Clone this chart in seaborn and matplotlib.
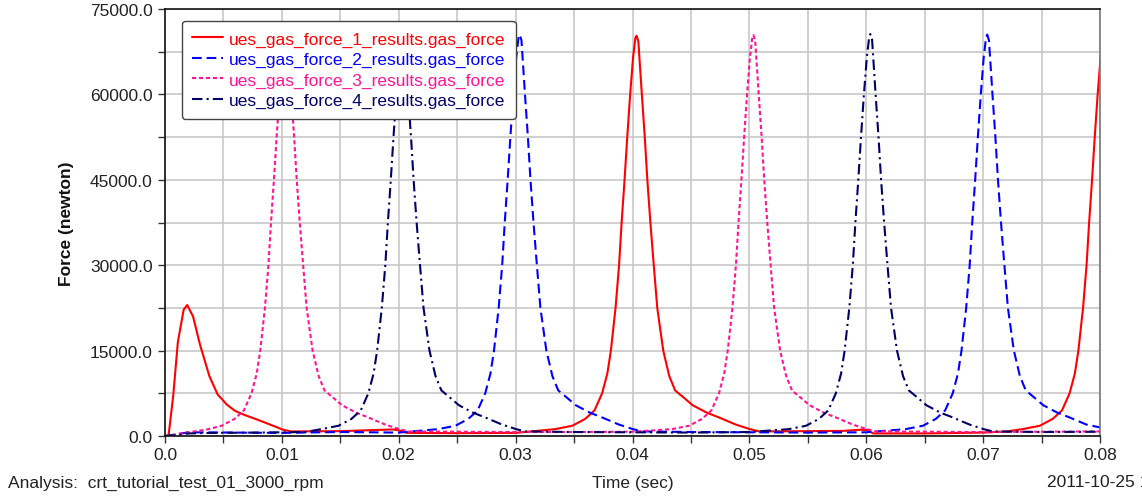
import matplotlib
matplotlib.use("Agg")
import matplotlib.pyplot as plt
import seaborn as sns
import pandas as pd
from matplotlib.ticker import MultipleLocator, FixedLocator, FixedFormatter

# ---------------- data ----------------
series_names = [
    "ues_gas_force_1_results.gas_force",
    "ues_gas_force_2_results.gas_force",
    "ues_gas_force_3_results.gas_force",
    "ues_gas_force_4_results.gas_force",
]

# cylinder 1 (red)
t_gas1 = [0.0, 0.0003, 0.0007, 0.0011, 0.0016, 0.0019, 0.0024, 0.0030, 0.0038, 0.0045,
          0.0053, 0.0060, 0.0068, 0.0080, 0.0090, 0.0101, 0.0108, 0.0150, 0.0187, 0.0195,
          0.0201, 0.0207, 0.0250, 0.0300,
          0.03335, 0.03485, 0.03595, 0.03675, 0.0374, 0.03785, 0.03815, 0.03855, 0.03885,
          0.03907, 0.03932, 0.03955, 0.0398, 0.04005, 0.04025, 0.04035,
          0.0405, 0.0408, 0.04105, 0.04127, 0.04153, 0.04182, 0.04212, 0.04263, 0.04315,
          0.04365, 0.04435, 0.04515, 0.04635, 0.04735, 0.04885, 0.05005, 0.05085,
          0.0550, 0.0580, 0.0595, 0.0601, 0.0606, 0.0650, 0.0700, 0.0720,
          0.07335, 0.07485, 0.07595, 0.07675, 0.0774, 0.07785, 0.07815, 0.07855, 0.07885,
          0.07907, 0.07932, 0.07955, 0.0798, 0.08005]
f_gas1 = [0, 0, 7000, 16500, 22200, 23000, 21000, 16000, 10500, 7300,
          5500, 4400, 3700, 2800, 2000, 1100, 800, 850, 1100, 1150,
          950, 550, 500, 550,
          1200, 1800, 3000, 4500, 7500, 11000, 15000, 22500, 30000,
          37500, 45000, 52500, 60000, 66500, 70000, 70300,
          69300, 60000, 52500, 45000, 37500, 30000, 22500, 15000, 10500,
          8000, 6800, 5400, 4100, 3300, 2000, 1200, 800,
          850, 900, 1100, 1050, 450, 450, 600, 800,
          1200, 1800, 3000, 4500, 7500, 11000, 15000, 22500, 30000,
          37500, 45000, 52500, 60000, 66500]

# cylinder 2 (blue, dashed)
t_gas2 = [0.0, 0.0010, 0.0020, 0.0060, 0.0100, 0.0150, 0.0200,
          0.02335, 0.02485, 0.02595, 0.02675, 0.0274, 0.02785, 0.02815, 0.02855, 0.02885,
          0.02907, 0.02932, 0.02955, 0.0298, 0.03005, 0.03025, 0.03035,
          0.0305, 0.0308, 0.03105, 0.03127, 0.03153, 0.03182, 0.03212, 0.03263, 0.03315,
          0.03365, 0.03435, 0.03515, 0.03635, 0.03735, 0.03885, 0.04005, 0.04085,
          0.0450, 0.0500, 0.0550, 0.0600,
          0.06335, 0.06485, 0.06595, 0.06675, 0.0674, 0.06785, 0.06815, 0.06855, 0.06885,
          0.06907, 0.06932, 0.06955, 0.0698, 0.07005, 0.07025, 0.07035,
          0.0705, 0.0708, 0.07105, 0.07127, 0.07153, 0.07182, 0.07212, 0.07263, 0.07315,
          0.07365, 0.07435, 0.07515, 0.07635, 0.07735, 0.07885, 0.0800]
f_gas2 = [0, 300, 650, 600, 550, 700, 600,
          1200, 1800, 3000, 4500, 7500, 11000, 15000, 22500, 30000,
          37500, 45000, 52500, 60000, 66500, 70000, 70500,
          69500, 60000, 52500, 45000, 37500, 30000, 22500, 15000, 10500,
          8000, 6800, 5400, 4100, 3300, 2000, 1200, 800,
          700, 650, 600, 650,
          1200, 1800, 3000, 4500, 7500, 11000, 15000, 22500, 30000,
          37500, 45000, 52500, 60000, 66500, 70000, 70500,
          69500, 60000, 52500, 45000, 37500, 30000, 22500, 15000, 10500,
          8000, 6800, 5400, 4100, 3300, 2000, 1500]

# cylinder 3 (pink, short dashes)
t_gas3 = [0.0, 0.0010, 0.0016, 0.0025, 0.0035,
          0.00485, 0.00595, 0.00675, 0.0074, 0.00785, 0.00815, 0.00855, 0.00885,
          0.00907, 0.00932, 0.00955, 0.0098, 0.01005, 0.01025, 0.01035,
          0.0105, 0.0108, 0.01105, 0.01127, 0.01153, 0.01182, 0.01212, 0.01263, 0.01315,
          0.01365, 0.01435, 0.01515, 0.01635, 0.01735, 0.01885, 0.02005, 0.02085,
          0.0250, 0.0300, 0.0350, 0.0400,
          0.04335, 0.04485, 0.04595, 0.04675, 0.0474, 0.04785, 0.04815, 0.04855, 0.04885,
          0.04907, 0.04932, 0.04955, 0.0498, 0.05005, 0.05025, 0.05035,
          0.0505, 0.0508, 0.05105, 0.05127, 0.05153, 0.05182, 0.05212, 0.05263, 0.05315,
          0.05365, 0.05435, 0.05515, 0.05635, 0.05735, 0.05885, 0.06005, 0.06085,
          0.0650, 0.0700, 0.0750, 0.0800]
f_gas3 = [0, 300, 550, 800, 1100,
          1800, 3000, 4500, 7500, 11000, 15000, 22500, 30000,
          37500, 45000, 52500, 60000, 66500, 70000, 70400,
          69400, 60000, 52500, 45000, 37500, 30000, 22500, 15000, 10500,
          8000, 6800, 5400, 4100, 3300, 2000, 1200, 800,
          750, 700, 700, 750,
          1200, 1800, 3000, 4500, 7500, 11000, 15000, 22500, 30000,
          37500, 45000, 52500, 60000, 66500, 70000, 70400,
          69400, 60000, 52500, 45000, 37500, 30000, 22500, 15000, 10500,
          8000, 6800, 5400, 4100, 3300, 2000, 1200, 800,
          750, 700, 750, 800]

# cylinder 4 (navy, dash-dot)
t_gas4 = [0.0, 0.0010, 0.0020, 0.0040, 0.0080, 0.0120,
          0.01335, 0.01485, 0.01595, 0.01675, 0.0174, 0.01785, 0.01815, 0.01855, 0.01885,
          0.01907, 0.01932, 0.01955, 0.0198, 0.02005, 0.02025, 0.02035,
          0.0205, 0.0208, 0.02105, 0.02127, 0.02153, 0.02182, 0.02212, 0.02263, 0.02315,
          0.02365, 0.02435, 0.02515, 0.02635, 0.02735, 0.02885, 0.03005, 0.03085,
          0.0350, 0.0400, 0.0450, 0.0500,
          0.05335, 0.05485, 0.05595, 0.05675, 0.0574, 0.05785, 0.05815, 0.05855, 0.05885,
          0.05907, 0.05932, 0.05955, 0.0598, 0.06005, 0.06025, 0.06035,
          0.0605, 0.0608, 0.06105, 0.06127, 0.06153, 0.06182, 0.06212, 0.06263, 0.06315,
          0.06365, 0.06435, 0.06515, 0.06635, 0.06735, 0.06885, 0.07005, 0.07085,
          0.0750, 0.0800]
f_gas4 = [0, 150, 450, 550, 600, 700,
          1200, 1800, 3000, 4500, 7500, 11000, 15000, 22500, 30000,
          37500, 45000, 52500, 60000, 66500, 70000, 70600,
          69600, 60000, 52500, 45000, 37500, 30000, 22500, 15000, 10500,
          8000, 6800, 5400, 4100, 3300, 2000, 1200, 800,
          700, 650, 600, 700,
          1200, 1800, 3000, 4500, 7500, 11000, 15000, 22500, 30000,
          37500, 45000, 52500, 60000, 66500, 70000, 70600,
          69600, 60000, 52500, 45000, 37500, 30000, 22500, 15000, 10500,
          8000, 6800, 5400, 4100, 3300, 2000, 1200, 800,
          700, 750]

x_tick_values = [0.0, 0.01, 0.02, 0.03, 0.04, 0.05, 0.06, 0.07, 0.08]
x_tick_labels = ["0.0", "0.01", "0.02", "0.03", "0.04", "0.05", "0.06", "0.07", "0.08"]
y_tick_values = [0, 15000, 30000, 45000, 60000, 75000]
y_tick_labels = ["0.0", "15000.0", "30000.0", "45000.0", "60000.0", "75000.0"]

# ---------------- styling ----------------
sns.set_style("white")
plt.rcParams["font.family"] = ["Liberation Sans", "DejaVu Sans"]
plt.rcParams["lines.scale_dashes"] = False

colors = ["#ff0000", "#0000ff", "#ff1493", "#000066"]
dash_styles = ["", (7.0, 3.5), (3.0, 2.0), (7.5, 3.0, 1.5, 3.0)]

FS = 12.5

fig = plt.figure(figsize=(11.42, 5.02), dpi=100, facecolor="white")
ax = fig.add_axes([165 / 1142, 65 / 502, 935 / 1142, 427 / 502])

series = [(t_gas1, f_gas1), (t_gas2, f_gas2), (t_gas3, f_gas3), (t_gas4, f_gas4)]
for (t, f), name, col, ds in zip(series, series_names, colors, dash_styles):
    df = pd.DataFrame({"time": t, "force": f})
    kw = {}
    if ds:
        kw["dashes"] = ds
    sns.lineplot(data=df, x="time", y="force", ax=ax, color=col, lw=1.5,
                 estimator=None, sort=False, label=name, **kw)

ax.set_xlim(0, 0.08)
ax.set_ylim(0, 75000)

ax.xaxis.set_major_locator(FixedLocator(x_tick_values))
ax.xaxis.set_major_formatter(FixedFormatter(x_tick_labels))
ax.xaxis.set_minor_locator(MultipleLocator(0.005))
ax.yaxis.set_major_locator(FixedLocator(y_tick_values))
ax.yaxis.set_major_formatter(FixedFormatter(y_tick_labels))
ax.yaxis.set_minor_locator(MultipleLocator(7500))

ax.grid(True, which="both", color="#c8c8c8", lw=1.2)
ax.set_axisbelow(True)
ax.tick_params(which="both", direction="out", length=5, width=1, color="#333333",
               labelsize=FS, labelcolor="#222222", bottom=True, left=True)
ax.tick_params(axis="x", which="both", pad=3)
ax.tick_params(axis="y", which="both", pad=4)

for side in ["left", "bottom", "top"]:
    ax.spines[side].set_color("#111111")
    ax.spines[side].set_linewidth(1.2)
ax.spines["right"].set_color("#777777")
ax.spines["right"].set_linewidth(1.2)

ax.set_ylabel("Force (newton)", fontsize=FS, fontweight="bold", color="#111111")
ax.yaxis.set_label_coords(-0.097, 0.5)
ax.set_xlabel("Time (sec)", fontsize=FS, color="#222222")
ax.xaxis.set_label_coords(0.5, -0.108)
ax.xaxis.label.set_va("center")

handles = ax.get_lines()[:4]
leg = ax.legend(handles, series_names, loc="upper left", bbox_to_anchor=(0.018, 0.972),
                borderaxespad=0, fontsize=FS, handlelength=1.8, handletextpad=0.3,
                borderpad=0.6, labelspacing=0.3, frameon=True, fancybox=True,
                framealpha=1, labelcolor="linecolor")
leg.get_frame().set_edgecolor("#444444")
leg.get_frame().set_linewidth(1.0)

fig.text(8 / 1142, 1 - 483 / 502, "Analysis:  crt_tutorial_test_01_3000_rpm",
         fontsize=FS, color="#222222", ha="left", va="center")
fig.text(1047 / 1142, 1 - 483 / 502, "2011-10-25 1",
         fontsize=FS, color="#222222", ha="left", va="center")

fig.savefig("out.png", dpi=100, facecolor="white")
